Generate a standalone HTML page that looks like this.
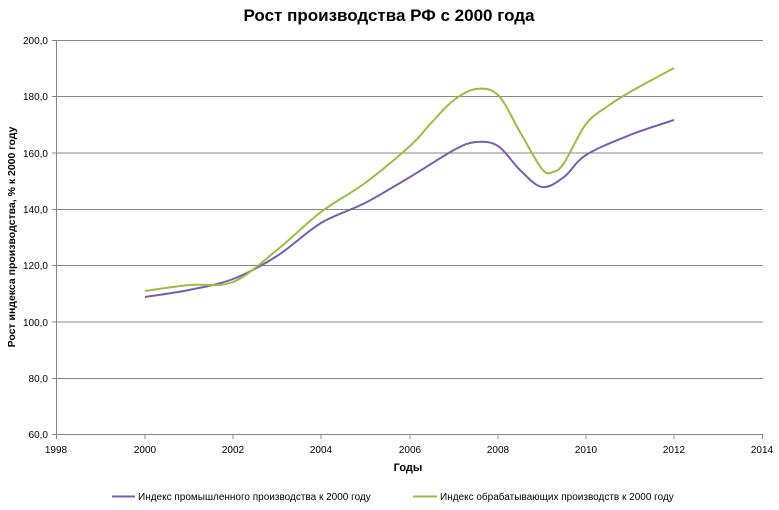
<!DOCTYPE html>
<html><head><meta charset="utf-8"><style>
body{margin:0;background:#fff;}
svg{display:block;font-family:"Liberation Sans","DejaVu Sans",sans-serif;}
</style></head><body>
<svg width="779" height="510" viewBox="0 0 779 510" xmlns="http://www.w3.org/2000/svg">
<rect width="779" height="510" fill="#fff"/>
<text x="389" y="21" text-anchor="middle" font-size="17" font-weight="bold" fill="#000">Рост производства РФ с 2000 года</text>
<g stroke="#878787" stroke-width="1">
<line x1="56.5" y1="40.5" x2="763" y2="40.5"/>
<line x1="56.5" y1="96.5" x2="763" y2="96.5"/>
<line x1="56.5" y1="153" x2="763" y2="153"/>
<line x1="56.5" y1="209.5" x2="763" y2="209.5"/>
<line x1="56.5" y1="265.5" x2="763" y2="265.5"/>
<line x1="56.5" y1="322" x2="763" y2="322"/>
<line x1="56.5" y1="378.5" x2="763" y2="378.5"/>
<line x1="56.5" y1="40" x2="56.5" y2="435"/>
<line x1="52" y1="434.5" x2="763" y2="434.5"/>
<line x1="52" y1="40.5" x2="56.5" y2="40.5"/><line x1="52" y1="96.5" x2="56.5" y2="96.5"/><line x1="52" y1="153" x2="56.5" y2="153"/><line x1="52" y1="209.5" x2="56.5" y2="209.5"/><line x1="52" y1="265.5" x2="56.5" y2="265.5"/><line x1="52" y1="322" x2="56.5" y2="322"/><line x1="52" y1="378.5" x2="56.5" y2="378.5"/>
<line x1="56.5" y1="435" x2="56.5" y2="439"/><line x1="145" y1="435" x2="145" y2="439"/><line x1="233" y1="435" x2="233" y2="439"/><line x1="321" y1="435" x2="321" y2="439"/><line x1="410" y1="435" x2="410" y2="439"/><line x1="498" y1="435" x2="498" y2="439"/><line x1="586" y1="435" x2="586" y2="439"/><line x1="674" y1="435" x2="674" y2="439"/><line x1="762.5" y1="435" x2="762.5" y2="439"/>
</g>
<g font-size="10" fill="#000" text-anchor="end">
<text x="48" y="44">200,0</text><text x="48" y="100">180,0</text><text x="48" y="157">160,0</text><text x="48" y="213">140,0</text><text x="48" y="269">120,0</text><text x="48" y="326">100,0</text><text x="48" y="382">80,0</text><text x="48" y="438">60,0</text>
</g>
<g font-size="10" fill="#000" text-anchor="middle">
<text x="56" y="453">1998</text><text x="145" y="453">2000</text><text x="233" y="453">2002</text><text x="321" y="453">2004</text><text x="410" y="453">2006</text><text x="498" y="453">2008</text><text x="586" y="453">2010</text><text x="674" y="453">2012</text><text x="762" y="453">2014</text>
</g>
<text x="408" y="471" text-anchor="middle" font-size="11" font-weight="bold">Годы</text>
<text transform="translate(15,237) rotate(-90)" text-anchor="middle" font-size="10.5" font-weight="bold">Рост индекса производства,  % к 2000  году</text>
<path id="p1" fill="none" stroke="#7b5ea7" stroke-width="2"/>
<path id="p2" fill="none" stroke="#98bb4b" stroke-width="2"/>
<line x1="112" y1="496.5" x2="135" y2="496.5" stroke="#7b5ea7" stroke-width="2"/>
<text x="138" y="500" font-size="10">Индекс промышленного производства к 2000 году</text>
<line x1="413" y1="496.5" x2="437" y2="496.5" stroke="#98bb4b" stroke-width="2"/>
<text x="440" y="500" font-size="10">Индекс обрабатывающих производств к 2000 году</text>
</svg>
<script>
function cr(p){var d="M"+p[0][0]+","+p[0][1];for(var i=0;i<p.length-1;i++){var a=p[i-1]||p[i],b=p[i],c=p[i+1],e=p[i+2]||c;d+=" C"+(b[0]+(c[0]-a[0])/6)+","+(b[1]+(c[1]-a[1])/6)+" "+(c[0]-(e[0]-b[0])/6)+","+(c[1]-(e[1]-b[1])/6)+" "+c[0]+","+c[1];}return d;}
document.getElementById("p1").setAttribute("d",cr([[145,297],[189,290],[233,279],[277,256],[321,223],[365,203],[410,177],[454,150],[476,142],[498,146],[520,170],[542,187],[564,177],[586,155],[630,135],[674,120]]));
document.getElementById("p2").setAttribute("d",cr([[145,291],[189,285],[233,282],[277,250],[321,212],[365,183],[410,146],[432,122],[454,100],[476,89],[498,95],[520,132],[542,169],[553,172],[564,163],[586,124],[608,106],[630,92],[674,68]]));
</script>
</body></html>
